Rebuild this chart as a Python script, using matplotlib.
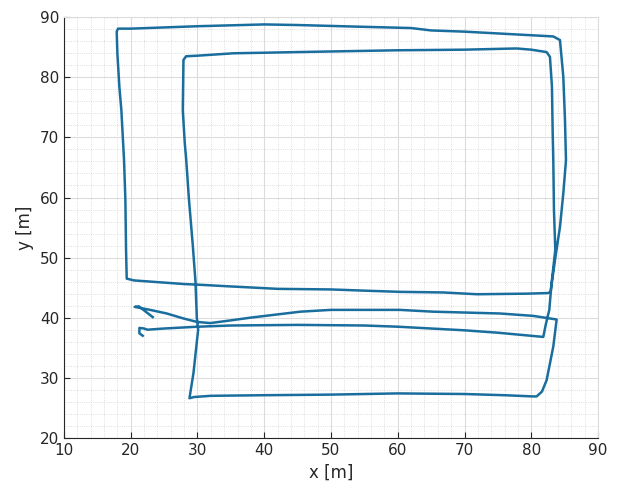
import numpy as np
import matplotlib.pyplot as plt
from matplotlib.ticker import MultipleLocator

# trajectory, in the order it was driven
x_m = [21.8, 21.3, 21.3, 22.0, 22.5, 25.0, 30.0, 35.0, 45.0, 55.0, 60.0, 65.0, 70.0, 75.0, 81.8,
       82.2, 82.7, 83.0, 83.7, 84.3, 84.8, 85.2, 85.05, 84.8, 84.3, 83.3,
       80.0, 75.0, 70.0, 65.0, 62.0, 55.0, 45.0, 40.0, 30.0, 25.0, 20.0, 18.1, 17.9,
       18.0, 18.3, 18.6, 19.0, 19.2, 19.3, 19.4,
       20.5, 23.0, 28.0, 30.0, 35.0, 42.0, 50.0, 55.0, 60.3, 66.8, 71.9, 79.4, 82.5,
       82.9, 83.6, 83.4, 83.3, 83.2, 83.1, 82.8, 82.3,
       80.0, 77.8, 70.0, 60.0, 50.0, 45.0, 40.4, 35.4, 30.0, 28.3, 27.9,
       27.8, 28.1, 28.3, 28.7, 29.3, 29.7, 29.9, 30.1, 29.4, 28.8,
       29.5, 32.0, 40.0, 50.0, 60.0, 70.0, 76.0, 80.2, 80.8,
       81.6, 82.3, 83.3, 83.8,
       80.3, 75.3, 65.3, 60.3, 50.0, 45.4, 37.9, 35.3, 31.9, 29.9, 27.8, 25.4, 22.9, 20.6, 21.2, 23.3]
y_m = [37.0, 37.4, 38.3, 38.2, 38.0, 38.2, 38.5, 38.7, 38.8, 38.7, 38.5, 38.2, 37.9, 37.5, 36.8,
       39.0, 41.3, 45.2, 50.7, 55.1, 60.7, 66.2, 72.9, 80.1, 86.2, 86.8,
       87.0, 87.3, 87.6, 87.8, 88.2, 88.4, 88.7, 88.8, 88.5, 88.3, 88.1, 88.1, 87.6,
       84.0, 78.4, 74.5, 66.2, 59.6, 51.3, 46.5,
       46.2, 46.0, 45.6, 45.5, 45.2, 44.8, 44.7, 44.5, 44.3, 44.2, 43.9, 44.0, 44.1,
       44.3, 51.3, 57.9, 66.2, 71.2, 78.4, 83.4, 84.2,
       84.6, 84.8, 84.6, 84.5, 84.3, 84.2, 84.1, 84.0, 83.6, 83.5, 82.9,
       74.5, 69.0, 66.5, 60.0, 52.0, 46.0, 40.0, 38.0, 30.8, 26.6,
       26.8, 27.0, 27.1, 27.2, 27.4, 27.3, 27.1, 26.9, 26.9,
       27.7, 29.6, 35.2, 39.7,
       40.3, 40.7, 41.0, 41.3, 41.3, 41.0, 40.0, 39.6, 39.1, 39.3, 39.9, 40.7, 41.3, 41.8, 41.9, 40.1]

plt.rcParams['font.family'] = 'DejaVu Sans'
fig = plt.figure(figsize=(6.21, 4.92), dpi=100)
ax = fig.add_axes([0.103, 0.110, 0.860, 0.855])

ax.plot(x_m, y_m, color='#1a6e9e', linewidth=1.8)

ax.set_xlim(10, 90)
ax.set_ylim(20, 90)
ax.xaxis.set_major_locator(MultipleLocator(10))
ax.yaxis.set_major_locator(MultipleLocator(10))
ax.xaxis.set_minor_locator(MultipleLocator(2))
ax.yaxis.set_minor_locator(MultipleLocator(2))
ax.grid(True, which='major', color='#dcdcdc', linewidth=0.8)
ax.grid(True, which='minor', color='#d4d4d4', linestyle=':', linewidth=0.6)
ax.set_axisbelow(True)

ax.tick_params(which='major', direction='in', length=4, labelsize=11, colors='#262626')
ax.tick_params(which='minor', length=0)
ax.tick_params(top=False, right=False)
for s in ['top', 'right']:
    ax.spines[s].set_color('#dcdcdc')
for s in ['left', 'bottom']:
    ax.spines[s].set_color('#262626')

ax.set_xlabel('x [m]', fontsize=12, color='#262626')
ax.set_ylabel('y [m]', fontsize=12, color='#262626')

plt.savefig('out.png', dpi=100)
